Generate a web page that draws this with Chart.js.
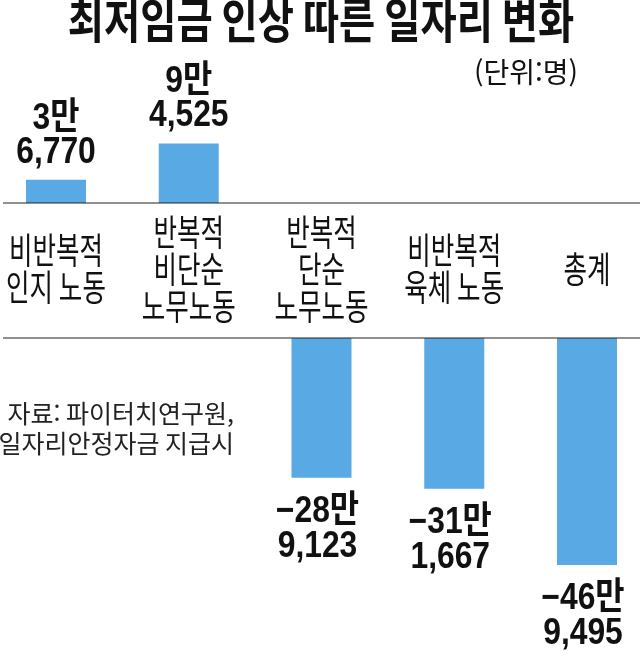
<!DOCTYPE html>
<html lang="ko">
<head>
<meta charset="utf-8">
<title>최저임금 인상 따른 일자리 변화</title>
<script src="https://cdn.jsdelivr.net/npm/chart.js@4.4.1/dist/chart.umd.min.js"></script>
<style>
  html, body { margin: 0; padding: 0; background: #fff; }
  #wrap { position: relative; width: 640px; height: 663px; overflow: hidden; }
  #topChart { position: absolute; left: 0; top: 0; }
  #bottomChart { position: absolute; left: 0; top: 330px; }
</style>
</head>
<body>
<div id="wrap">
  <canvas id="topChart" width="640" height="340"></canvas>
  <canvas id="bottomChart" width="640" height="333"></canvas>
</div>
<script>
// data (persons)
const categories = [
  ["비반복적", "인지 노동"],
  ["반복적", "비단순", "노무노동"],
  ["반복적", "단순", "노무노동"],
  ["비반복적", "육체 노동"],
  ["총계"]
];
const jobChange = [36770, 94525, -289123, -311667, -469495];
const title = "최저임금 인상 따른 일자리 변화";
const unitText = "(단위:명)";
const sourceLines = ["자료: 파이터치연구원,", "일자리안정자금 지급시"];

const barColor = "#59a9e4";
const ink = "#111";

// "3만", "6,770"
function manLabel(v) {
  const a = Math.abs(v);
  const man = Math.floor(a / 10000);
  const rest = a % 10000;
  return [(v < 0 ? "\u2212" : "") + man + "만", rest.toLocaleString("en-US")];
}

// narrow text like the newspaper font
function drawText(ctx, text, x, y, font, sx, align, baseline, color) {
  ctx.save();
  ctx.translate(x, y);
  ctx.scale(sx, 1);
  ctx.font = font;
  ctx.textAlign = align;
  ctx.textBaseline = baseline || "alphabetic";
  ctx.fillStyle = color || ink;
  ctx.fillText(text, 0, 0);
  ctx.restore();
}

function hLine(ctx, y) {
  ctx.save();
  ctx.strokeStyle = "#222";
  ctx.lineWidth = 1.2;
  ctx.beginPath();
  ctx.moveTo(3, y);
  ctx.lineTo(640, y);
  ctx.stroke();
  ctx.restore();
}

const valueFont = "bold 37px 'Liberation Sans', 'Noto Sans CJK KR', sans-serif";
const catFont = "36px 'Noto Sans CJK KR', sans-serif";

const topPlugin = {
  id: "topDecor",
  afterDatasetsDraw(chart) {
    const ctx = chart.ctx;
    const y0 = chart.scales.y.getPixelForValue(0);
    hLine(ctx, y0);

    drawText(ctx, title, 321, 20, "bold 48px 'Noto Sans CJK KR', sans-serif", 0.82, "center", "middle");
    drawText(ctx, unitText, 578, 72, "28px 'Noto Sans CJK KR', sans-serif", 1, "right", "middle");

    const meta = chart.getDatasetMeta(0);
    meta.data.forEach((bar, i) => {
      const v = chart.data.datasets[0].data[i];
      if (v == null) return;
      const lines = manLabel(v);
      drawText(ctx, lines[0], bar.x, bar.y - 51, valueFont, 0.86, "center");
      drawText(ctx, lines[1], bar.x, bar.y - 17, valueFont, 0.86, "center");
    });

    // category labels in the band between the two base lines
    const xs = chart.scales.x;
    categories.forEach((lines, i) => {
      const cx = xs.getPixelForValue(i);
      const mid = 269;
      lines.forEach((t, j) => {
        const ly = mid + (j - (lines.length - 1) / 2) * 37;
        drawText(ctx, t, cx, ly, catFont, 0.71, "center", "middle");
      });
    });
  }
};

const bottomPlugin = {
  id: "bottomDecor",
  afterDatasetsDraw(chart) {
    const ctx = chart.ctx;
    const y0 = chart.scales.y.getPixelForValue(0);
    hLine(ctx, y0);

    const meta = chart.getDatasetMeta(0);
    meta.data.forEach((bar, i) => {
      const v = chart.data.datasets[0].data[i];
      if (v == null) return;
      const lines = manLabel(v);
      drawText(ctx, lines[0], bar.x - 4, bar.y + 44, valueFont, 0.86, "center");
      drawText(ctx, lines[1], bar.x - 4, bar.y + 79, valueFont, 0.86, "center");
    });

    const srcFont = "25px 'Noto Sans CJK KR', sans-serif";
    drawText(ctx, sourceLines[0], 234, 83, srcFont, 1, "right", "middle", "#222");
    drawText(ctx, sourceLines[1], 234, 113, srcFont, 1, "right", "middle", "#222");
  }
};

function makeChart(canvasId, data, yMin, yMax, padding, plugin) {
  return new Chart(document.getElementById(canvasId), {
    type: "bar",
    data: {
      labels: categories,
      datasets: [{
        data: data,
        backgroundColor: barColor,
        borderWidth: 0,
        categoryPercentage: 1,
        barPercentage: 0.452,
        clip: false
      }]
    },
    options: {
      responsive: false,
      animation: false,
      layout: { padding: padding },
      plugins: {
        legend: { display: false },
        tooltip: { enabled: false },
        title: { display: false }
      },
      scales: {
        x: { display: false, offset: false, grid: { display: false } },
        y: { display: false, min: yMin, max: yMax }
      }
    },
    plugins: [plugin]
  });
}

// gains above the labels, losses below (the picture uses two separate scales)
makeChart("topChart", jobChange.map(v => (v > 0 ? v : null)), 0, 200000,
  { left: 56, right: 53, top: 77, bottom: 137 }, topPlugin);
makeChart("bottomChart", jobChange.map(v => (v < 0 ? v : null)), -600000, 0,
  { left: 56, right: 53, top: 8, bottom: 35 }, bottomPlugin);
</script>
</body>
</html>
